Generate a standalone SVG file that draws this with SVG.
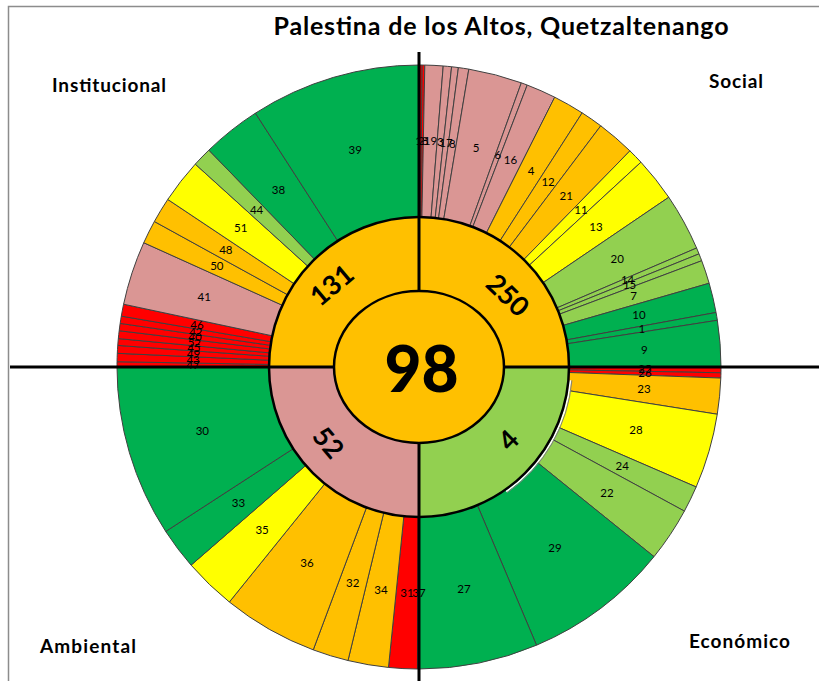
<svg xmlns="http://www.w3.org/2000/svg" width="819" height="681" viewBox="0 0 819 681">
<style>
.s{stroke:#404040;stroke-width:1;stroke-linejoin:round}
.dg{fill:#00B050}.lg{fill:#92D050}.ye{fill:#FFFF00}.or{fill:#FFC000}.pk{fill:#DA9694}.rd{fill:#FF0000}
.lb{font-family:Lato,"Open Sans","DejaVu Sans",sans-serif;font-size:11.5px;fill:#000;text-anchor:middle}
.rl{font-family:Lato,"Open Sans","DejaVu Sans",sans-serif;font-size:27px;font-weight:bold;fill:#000;text-anchor:middle}
.q{font-family:Lato,"Open Sans","DejaVu Sans",sans-serif;font-size:19px;font-weight:bold;fill:#000}
.ax{stroke:#000;stroke-width:3;fill:none}
</style>
<rect width="819" height="681" fill="#fff"/>
<path d="M8.5 681 V6.5 H819" stroke="#8c8c8c" stroke-width="1.5" fill="none"/>
<text x="501" y="35" text-anchor="middle" textLength="455" style="font-family:Lato,'Open Sans',sans-serif;font-size:25px;font-weight:bold">Palestina de los Altos, Quetzaltenango</text>
<g id="quadrant-labels">
<text class="q" x="52" y="92" textLength="114">Institucional</text>
<text class="q" x="709" y="88" textLength="54">Social</text>
<text class="q" x="40" y="653" textLength="96">Ambiental</text>
<text class="q" x="689" y="648" textLength="101">Económico</text>
</g>
<g id="outer-ring" class="s">
<g id="social">
<path id="s2" class="rd" d="M419 367L419 65A302 302 0 0 1 422.16 65.02Z"/>
<path id="s18" class="rd" d="M419 367L422.16 65.02A302 302 0 0 1 424.8 65.06Z"/>
<path id="s19" class="pk" d="M419 367L424.8 65.06A302 302 0 0 1 443.22 65.97Z"/>
<path id="s3" class="pk" d="M419 367L443.22 65.97A302 302 0 0 1 451.62 66.77Z"/>
<path id="s17" class="pk" d="M419 367L451.62 66.77A302 302 0 0 1 458.42 67.58Z"/>
<path id="s8" class="pk" d="M419 367L458.42 67.58A302 302 0 0 1 468.84 69.14Z"/>
<path id="s5" class="pk" d="M419 367L468.84 69.14A302 302 0 0 1 521.3 82.85Z"/>
<path id="s6" class="pk" d="M419 367L521.3 82.85A302 302 0 0 1 527.23 85.06Z"/>
<path id="s16" class="pk" d="M419 367L527.23 85.06A302 302 0 0 1 554.69 97.2Z"/>
<path id="s4" class="or" d="M419 367L554.69 97.2A302 302 0 0 1 582.15 112.86Z"/>
<path id="s12" class="or" d="M419 367L582.15 112.86A302 302 0 0 1 600.75 125.81Z"/>
<path id="s21" class="or" d="M419 367L600.75 125.81A302 302 0 0 1 629.9 150.84Z"/>
<path id="s11" class="ye" d="M419 367L629.9 150.84A302 302 0 0 1 640.94 162.2Z"/>
<path id="s13" class="ye" d="M419 367L640.94 162.2A302 302 0 0 1 668.78 197.25Z"/>
<path id="s20" class="lg" d="M419 367L668.78 197.25A302 302 0 0 1 696.58 248.03Z"/>
<path id="s14" class="lg" d="M419 367L696.58 248.03A302 302 0 0 1 699.01 253.87Z"/>
<path id="s15" class="lg" d="M419 367L699.01 253.87A302 302 0 0 1 701.69 260.74Z"/>
<path id="s7" class="lg" d="M419 367L701.69 260.74A302 302 0 0 1 709.15 283.25Z"/>
<path id="s10" class="dg" d="M419 367L709.15 283.25A302 302 0 0 1 716.04 312.48Z"/>
<path id="s1" class="dg" d="M419 367L716.04 312.48A302 302 0 0 1 717.36 320.27Z"/>
<path id="s9" class="dg" d="M419 367L717.36 320.27A302 302 0 0 1 721 367Z"/>
</g>
<g id="economico">
<path id="s25" class="rd" d="M419 367L721 367A302 302 0 0 1 720.94 372.8Z"/>
<path id="s26" class="rd" d="M419 367L720.94 372.8A302 302 0 0 1 720.8 378.07Z"/>
<path id="s23" class="or" d="M419 367L720.8 378.07A302 302 0 0 1 717.28 414.24Z"/>
<path id="s28" class="ye" d="M419 367L717.28 414.24A302 302 0 0 1 696.16 486.94Z"/>
<path id="s24" class="lg" d="M419 367L696.16 486.94A302 302 0 0 1 684.4 511.1Z"/>
<path id="s22" class="lg" d="M419 367L684.4 511.1A302 302 0 0 1 654.03 556.65Z"/>
<path id="s29" class="dg" d="M419 367L654.03 556.65A302 302 0 0 1 536.52 645.2Z"/>
<path id="s27" class="dg" d="M419 367L536.52 645.2A302 302 0 0 1 419 669Z"/>
</g>
<g id="ambiental">
<path id="s37" class="rd" d="M419 367L419 669A302 302 0 0 1 417.42 669Z"/>
<path id="s31" class="rd" d="M419 367L417.42 669A302 302 0 0 1 388.48 667.45Z"/>
<path id="s34" class="or" d="M419 367L388.48 667.45A302 302 0 0 1 347.99 660.53Z"/>
<path id="s32" class="or" d="M419 367L347.99 660.53A302 302 0 0 1 313.24 649.87Z"/>
<path id="s36" class="or" d="M419 367L313.24 649.87A302 302 0 0 1 229.35 602.03Z"/>
<path id="s35" class="ye" d="M419 367L229.35 602.03A302 302 0 0 1 191.08 565.13Z"/>
<path id="s33" class="dg" d="M419 367L191.08 565.13A302 302 0 0 1 165.72 531.48Z"/>
<path id="s30" class="dg" d="M419 367L165.72 531.48A302 302 0 0 1 117 367Z"/>
</g>
<g id="institucional">
<path id="s47" class="rd" d="M419 367L117 367A302 302 0 0 1 117.05 361.73Z"/>
<path id="s43" class="rd" d="M419 367L117.05 361.73A302 302 0 0 1 117.31 353.3Z"/>
<path id="s49" class="rd" d="M419 367L117.31 353.3A302 302 0 0 1 117.77 345.41Z"/>
<path id="s45" class="rd" d="M419 367L117.77 345.41A302 302 0 0 1 118.34 338.58Z"/>
<path id="s52" class="rd" d="M419 367L118.34 338.58A302 302 0 0 1 119.19 330.72Z"/>
<path id="s40" class="rd" d="M419 367L119.19 330.72A302 302 0 0 1 120.16 323.4Z"/>
<path id="s42" class="rd" d="M419 367L120.16 323.4A302 302 0 0 1 121.32 316.12Z"/>
<path id="s46" class="rd" d="M419 367L121.32 316.12A302 302 0 0 1 123.6 304.21Z"/>
<path id="s41" class="pk" d="M419 367L123.6 304.21A302 302 0 0 1 143.76 242.72Z"/>
<path id="s50" class="or" d="M419 367L143.76 242.72A302 302 0 0 1 154.36 221.51Z"/>
<path id="s48" class="or" d="M419 367L154.36 221.51A302 302 0 0 1 167.75 199.44Z"/>
<path id="s51" class="ye" d="M419 367L167.75 199.44A302 302 0 0 1 195.28 164.14Z"/>
<path id="s44" class="lg" d="M419 367L195.28 164.14A302 302 0 0 1 208.83 150.13Z"/>
<path id="s38" class="dg" d="M419 367L208.83 150.13A302 302 0 0 1 255.4 113.15Z"/>
<path id="s39" class="dg" d="M419 367L255.4 113.15A302 302 0 0 1 419 65Z"/>
</g>
</g>
<g id="economico-edge" fill="none">
<path d="M570.22 380.23A151.8 151.8 0 0 1 506.07 491.35" stroke="#fff" stroke-width="2"/>
<path d="M571.92 380.38A153.5 153.5 0 0 1 507.04 492.74" stroke="#7f7f7f" stroke-width="1"/>
</g>
<g id="middle-ring">
<path id="m-social" class="or" d="M419 367L419 217A150 150 0 0 1 569 367Z"/>
<path id="m-economico" class="lg" d="M419 367L569 367A150 150 0 0 1 419 517Z"/>
<path id="m-ambiental" class="pk" d="M419 367L419 517A150 150 0 0 1 269 367Z"/>
<path id="m-institucional" class="or" d="M419 367L269 367A150 150 0 0 1 419 217Z"/>
<circle cx="419" cy="367" r="150" fill="none" stroke="#000" stroke-width="2.5"/>
</g>
<g id="connectors">
<line class="ax" x1="10" y1="367" x2="819" y2="367"/>
<line class="ax" x1="419" y1="52" x2="419" y2="681"/>
</g>
<g id="center">
<ellipse cx="419" cy="367" rx="85" ry="76" class="or" stroke="#000" stroke-width="2.5"/>
<text x="421.5" y="391.5" text-anchor="middle" style="font-family:Lato,'Open Sans',sans-serif;font-size:64px;font-weight:900">98</text>
</g>
<g id="ring-labels">
<text class="rl" transform="translate(331.7 285) rotate(-40)" dy="0.36em">131</text>
<text class="rl" transform="translate(508 295) rotate(44)" dy="0.36em">250</text>
<text class="rl" transform="translate(328.5 442.5) rotate(50)" dy="0.36em">52</text>
<text class="rl" transform="translate(508.3 440) rotate(-45)" dy="0.36em">4</text>
</g>
<g id="labels" class="lb">
<text x="421" y="141" dy="0.36em">2</text>
<text x="421.8" y="141" dy="0.36em">18</text>
<text x="430.5" y="141.3" dy="0.36em">19</text>
<text x="440.3" y="142" dy="0.36em">3</text>
<text x="446" y="142.6" dy="0.36em">17</text>
<text x="452.4" y="143.5" dy="0.36em">8</text>
<text x="476.2" y="148.3" dy="0.36em">5</text>
<text x="497.8" y="155.2" dy="0.36em">6</text>
<text x="510.4" y="160.3" dy="0.36em">16</text>
<text x="531" y="170.7" dy="0.36em">4</text>
<text x="548.1" y="181.5" dy="0.36em">12</text>
<text x="566.2" y="195.5" dy="0.36em">21</text>
<text x="581" y="209.4" dy="0.36em">11</text>
<text x="596" y="226.5" dy="0.36em">13</text>
<text x="617.2" y="258.5" dy="0.36em">20</text>
<text x="627.6" y="280.1" dy="0.36em">14</text>
<text x="629.6" y="284.9" dy="0.36em">15</text>
<text x="633.5" y="295.9" dy="0.36em">7</text>
<text x="639" y="315.2" dy="0.36em">10</text>
<text x="641.8" y="329.1" dy="0.36em">1</text>
<text x="644.3" y="349.5" dy="0.36em">9</text>
<text x="645" y="369.2" dy="0.36em">25</text>
<text x="644.9" y="373.3" dy="0.36em">26</text>
<text x="643.9" y="388.9" dy="0.36em">23</text>
<text x="636" y="430.1" dy="0.36em">28</text>
<text x="622.2" y="465.9" dy="0.36em">24</text>
<text x="607" y="492.4" dy="0.36em">22</text>
<text x="555" y="547.5" dy="0.36em">29</text>
<text x="463.9" y="588.5" dy="0.36em">27</text>
<text x="419" y="593" dy="0.36em">37</text>
<text x="407" y="592.7" dy="0.36em">31</text>
<text x="380.9" y="589.8" dy="0.36em">34</text>
<text x="352.7" y="583.1" dy="0.36em">32</text>
<text x="307" y="563.3" dy="0.36em">36</text>
<text x="262.1" y="529.7" dy="0.36em">35</text>
<text x="238.5" y="503" dy="0.36em">33</text>
<text x="202.3" y="431.2" dy="0.36em">30</text>
<text x="193" y="365" dy="0.36em">47</text>
<text x="193.1" y="359.9" dy="0.36em">43</text>
<text x="193.4" y="353.8" dy="0.36em">49</text>
<text x="193.8" y="348.3" dy="0.36em">45</text>
<text x="194.3" y="342.8" dy="0.36em">52</text>
<text x="195" y="337.1" dy="0.36em">40</text>
<text x="195.8" y="331.6" dy="0.36em">42</text>
<text x="197" y="324.5" dy="0.36em">46</text>
<text x="204.2" y="296.6" dy="0.36em">41</text>
<text x="216.8" y="266" dy="0.36em">50</text>
<text x="225.8" y="249.8" dy="0.36em">48</text>
<text x="240.7" y="228.1" dy="0.36em">51</text>
<text x="256.6" y="209.9" dy="0.36em">44</text>
<text x="278.5" y="190" dy="0.36em">38</text>
<text x="355.2" y="150.2" dy="0.36em">39</text>
</g>
</svg>
